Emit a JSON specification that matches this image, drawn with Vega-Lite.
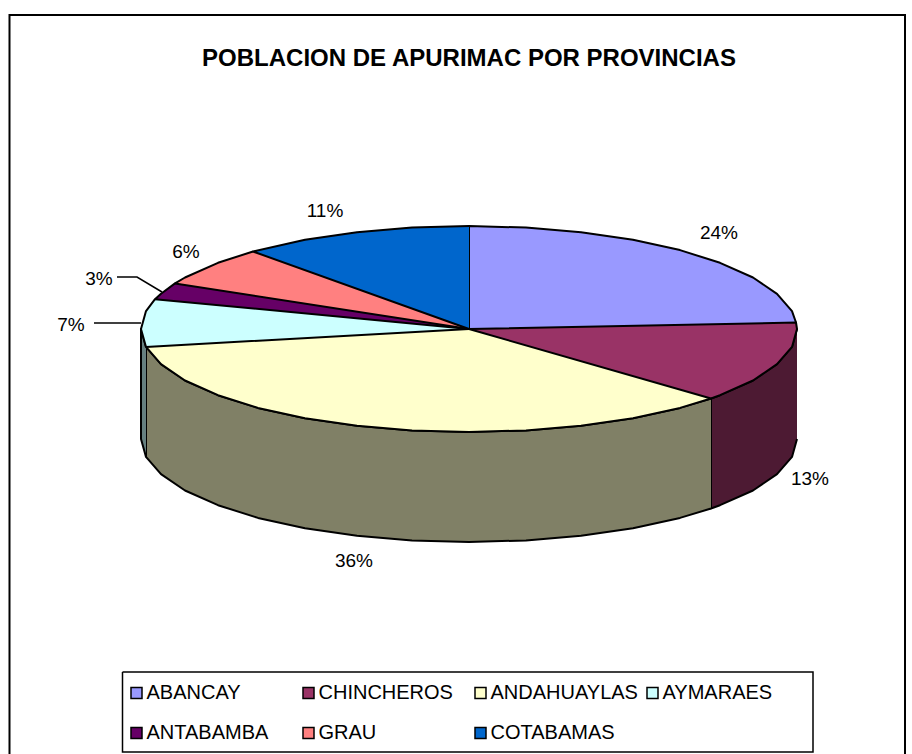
{
"$schema":"https://vega.github.io/schema/vega-lite/v6.json",
"width":912,"height":754,"padding":0,"autosize":{"type":"none"},"background":"white",
"title":{"text":"POBLACION DE APURIMAC POR PROVINCIAS","font":"Liberation Sans","fontWeight":"bold","fontSize":24,"color":"black","anchor":"middle","frame":"group","baseline":"alphabetic","offset":-66,"dx":13,"dy":24},
"config":{"view":{"stroke":null},"text":{"font":"Liberation Sans"}},
"datasets":{
"marco":[{"c":"f","x":-459.5,"y":-425,"o":1},{"c":"f","x":-459.5,"y":314,"o":2},{"c":"f","x":436,"y":314,"o":3},{"c":"f","x":436,"y":-425,"o":4}],
"caja":[{"x":-346.5,"y":-343,"o":1},{"x":344,"y":-343,"o":2},{"x":344,"y":-423,"o":3},{"x":-346.5,"y":-423,"o":4},{"x":-346.5,"y":-343,"o":5}],
"guias":[{"g":"7%","x":-375,"y":6,"o":1},{"g":"7%","x":-328,"y":6,"o":2},{"g":"3%","x":-352,"y":52,"o":1},{"g":"3%","x":-332,"y":52,"o":2},{"g":"3%","x":-307,"y":37,"o":3}],
"etiquetas":[{"p":0.24,"x":250,"y":96},{"p":0.13,"x":341,"y":-150},{"p":0.36,"x":-115,"y":-232},{"p":0.07,"x":-398,"y":4},{"p":0.03,"x":-370,"y":50},{"p":0.06,"x":-283,"y":77},{"p":0.11,"x":-144,"y":118}],
"paredes":[
{"n":"CHINCHEROS","o":1,"x":328,"y":0},{"n":"CHINCHEROS","o":2,"x":323,"y":-17.9},{"n":"CHINCHEROS","o":3,"x":308,"y":-35.2},{"n":"CHINCHEROS","o":4,"x":284,"y":-51.5},{"n":"CHINCHEROS","o":5,"x":251,"y":-66.2},{"n":"CHINCHEROS","o":6,"x":242,"y":-69.5},{"n":"CHINCHEROS","o":7,"x":242,"y":-179.5},{"n":"CHINCHEROS","o":8,"x":251,"y":-176.2},{"n":"CHINCHEROS","o":9,"x":284,"y":-161.5},{"n":"CHINCHEROS","o":10,"x":308,"y":-145.2},{"n":"CHINCHEROS","o":11,"x":323,"y":-127.9},{"n":"CHINCHEROS","o":12,"x":328,"y":-110},
{"n":"ANDAHUAYLAS","o":1,"x":242,"y":-69.5},{"n":"ANDAHUAYLAS","o":2,"x":211,"y":-78.9},{"n":"ANDAHUAYLAS","o":3,"x":164,"y":-89.2},{"n":"ANDAHUAYLAS","o":4,"x":112,"y":-96.8},{"n":"ANDAHUAYLAS","o":5,"x":57,"y":-101.4},{"n":"ANDAHUAYLAS","o":6,"x":0,"y":-103},{"n":"ANDAHUAYLAS","o":7,"x":-57,"y":-101.4},{"n":"ANDAHUAYLAS","o":8,"x":-112,"y":-96.8},{"n":"ANDAHUAYLAS","o":9,"x":-164,"y":-89.2},{"n":"ANDAHUAYLAS","o":10,"x":-211,"y":-78.9},{"n":"ANDAHUAYLAS","o":11,"x":-251,"y":-66.2},{"n":"ANDAHUAYLAS","o":12,"x":-284,"y":-51.5},{"n":"ANDAHUAYLAS","o":13,"x":-308,"y":-35.2},{"n":"ANDAHUAYLAS","o":14,"x":-323,"y":-17.9},
{"n":"ANDAHUAYLAS","o":15,"x":-323,"y":-127.9},{"n":"ANDAHUAYLAS","o":16,"x":-308,"y":-145.2},{"n":"ANDAHUAYLAS","o":17,"x":-284,"y":-161.5},{"n":"ANDAHUAYLAS","o":18,"x":-251,"y":-176.2},{"n":"ANDAHUAYLAS","o":19,"x":-211,"y":-188.9},{"n":"ANDAHUAYLAS","o":20,"x":-164,"y":-199.2},{"n":"ANDAHUAYLAS","o":21,"x":-112,"y":-206.8},{"n":"ANDAHUAYLAS","o":22,"x":-57,"y":-211.4},{"n":"ANDAHUAYLAS","o":23,"x":0,"y":-213},{"n":"ANDAHUAYLAS","o":24,"x":57,"y":-211.4},{"n":"ANDAHUAYLAS","o":25,"x":112,"y":-206.8},{"n":"ANDAHUAYLAS","o":26,"x":164,"y":-199.2},{"n":"ANDAHUAYLAS","o":27,"x":211,"y":-188.9},{"n":"ANDAHUAYLAS","o":28,"x":242,"y":-179.5},
{"n":"AYMARAES","o":1,"x":-323,"y":-17.9},{"n":"AYMARAES","o":2,"x":-328,"y":0},{"n":"AYMARAES","o":3,"x":-328,"y":-110},{"n":"AYMARAES","o":4,"x":-323,"y":-127.9}
],
"tapas":[
{"n":"ABANCAY","o":0,"x":0,"y":0},{"n":"ABANCAY","o":1,"x":0,"y":103},{"n":"ABANCAY","o":2,"x":57,"y":101.4},{"n":"ABANCAY","o":3,"x":112,"y":96.8},{"n":"ABANCAY","o":4,"x":164,"y":89.2},{"n":"ABANCAY","o":5,"x":211,"y":78.9},{"n":"ABANCAY","o":6,"x":251,"y":66.2},{"n":"ABANCAY","o":7,"x":284,"y":51.5},{"n":"ABANCAY","o":8,"x":308,"y":35.2},{"n":"ABANCAY","o":9,"x":323,"y":17.9},{"n":"ABANCAY","o":10,"x":327,"y":6.5},
{"n":"CHINCHEROS","o":0,"x":0,"y":0},{"n":"CHINCHEROS","o":1,"x":327,"y":6.5},{"n":"CHINCHEROS","o":2,"x":328,"y":0},{"n":"CHINCHEROS","o":3,"x":323,"y":-17.9},{"n":"CHINCHEROS","o":4,"x":308,"y":-35.2},{"n":"CHINCHEROS","o":5,"x":284,"y":-51.5},{"n":"CHINCHEROS","o":6,"x":251,"y":-66.2},{"n":"CHINCHEROS","o":7,"x":242,"y":-69.5},
{"n":"ANDAHUAYLAS","o":0,"x":0,"y":0},{"n":"ANDAHUAYLAS","o":1,"x":242,"y":-69.5},{"n":"ANDAHUAYLAS","o":2,"x":211,"y":-78.9},{"n":"ANDAHUAYLAS","o":3,"x":164,"y":-89.2},{"n":"ANDAHUAYLAS","o":4,"x":112,"y":-96.8},{"n":"ANDAHUAYLAS","o":5,"x":57,"y":-101.4},{"n":"ANDAHUAYLAS","o":6,"x":0,"y":-103},{"n":"ANDAHUAYLAS","o":7,"x":-57,"y":-101.4},{"n":"ANDAHUAYLAS","o":8,"x":-112,"y":-96.8},{"n":"ANDAHUAYLAS","o":9,"x":-164,"y":-89.2},{"n":"ANDAHUAYLAS","o":10,"x":-211,"y":-78.9},{"n":"ANDAHUAYLAS","o":11,"x":-251,"y":-66.2},{"n":"ANDAHUAYLAS","o":12,"x":-284,"y":-51.5},{"n":"ANDAHUAYLAS","o":13,"x":-308,"y":-35.2},{"n":"ANDAHUAYLAS","o":14,"x":-323,"y":-17.9},
{"n":"AYMARAES","o":0,"x":0,"y":0},{"n":"AYMARAES","o":1,"x":-323,"y":-17.9},{"n":"AYMARAES","o":2,"x":-328,"y":0},{"n":"AYMARAES","o":3,"x":-323,"y":17.9},{"n":"AYMARAES","o":4,"x":-314,"y":29.8},
{"n":"ANTABAMBA","o":0,"x":0,"y":0},{"n":"ANTABAMBA","o":1,"x":-314,"y":29.8},{"n":"ANTABAMBA","o":2,"x":-308,"y":35.2},{"n":"ANTABAMBA","o":3,"x":-294,"y":45.6},
{"n":"GRAU","o":0,"x":0,"y":0},{"n":"GRAU","o":1,"x":-294,"y":45.6},{"n":"GRAU","o":2,"x":-284,"y":51.5},{"n":"GRAU","o":3,"x":-251,"y":66.2},{"n":"GRAU","o":4,"x":-216,"y":77.5},
{"n":"COTABAMAS","o":0,"x":0,"y":0},{"n":"COTABAMAS","o":1,"x":-216,"y":77.5},{"n":"COTABAMAS","o":2,"x":-164,"y":89.2},{"n":"COTABAMAS","o":3,"x":-112,"y":96.8},{"n":"COTABAMAS","o":4,"x":-57,"y":101.4},{"n":"COTABAMAS","o":5,"x":0,"y":103}
]},
"encoding":{
"x":{"field":"x","type":"quantitative","axis":null,"scale":{"domain":[-469,443],"nice":false,"zero":false}},
"y":{"field":"y","type":"quantitative","axis":null,"scale":{"domain":[-425,329],"nice":false,"zero":false}}
},
"resolve":{"scale":{"fill":"independent"}},
"layer":[
{"data":{"name":"marco"},"mark":{"type":"line","stroke":"black","strokeWidth":2,"strokeJoin":"miter"},"encoding":{"order":{"field":"o","type":"quantitative"}}},
{"data":{"name":"caja"},"mark":{"type":"line","stroke":"black","strokeWidth":1.5,"strokeJoin":"miter"},"encoding":{"order":{"field":"o","type":"quantitative"}}},
{"data":{"name":"paredes"},"mark":{"type":"line","stroke":"black","strokeWidth":2,"strokeJoin":"round"},"encoding":{"detail":{"field":"n"},"order":{"field":"o","type":"quantitative"},"fill":{"field":"n","type":"nominal","legend":null,"scale":{"domain":["CHINCHEROS","ANDAHUAYLAS","AYMARAES"],"range":["#4D1A33","#808066","#668080"]}}}},
{"data":{"name":"tapas"},"mark":{"type":"line","stroke":"black","strokeWidth":2,"strokeJoin":"round"},"encoding":{"detail":{"field":"n"},"order":{"field":"o","type":"quantitative"},"fill":{"field":"n","type":"nominal","scale":{"domain":["ABANCAY","CHINCHEROS","ANDAHUAYLAS","AYMARAES","ANTABAMBA","GRAU","COTABAMAS"],"range":["#9999FF","#993366","#FFFFCC","#CCFFFF","#660066","#FF8080","#0066CC"]},"legend":{"title":null,"orient":"none","legendX":126.5,"legendY":683,"direction":"horizontal","columns":4,"gridAlign":"all","symbolType":"square","symbolSize":121,"symbolStrokeColor":"black","symbolStrokeWidth":1.5,"symbolOpacity":1,"labelFont":"Liberation Sans","labelFontSize":20,"labelColor":"black","labelOffset":0,"columnPadding":4,"rowPadding":20,"padding":0,"labelLimit":300}}}},
{"data":{"name":"guias"},"mark":{"type":"line","stroke":"black","strokeWidth":1.5},"encoding":{"detail":{"field":"g"},"order":{"field":"o","type":"quantitative"}}},
{"data":{"name":"etiquetas"},"mark":{"type":"text","fontSize":19,"font":"Liberation Sans","color":"black"},"encoding":{"text":{"field":"p","type":"quantitative","format":".0%"}}}
]
}
